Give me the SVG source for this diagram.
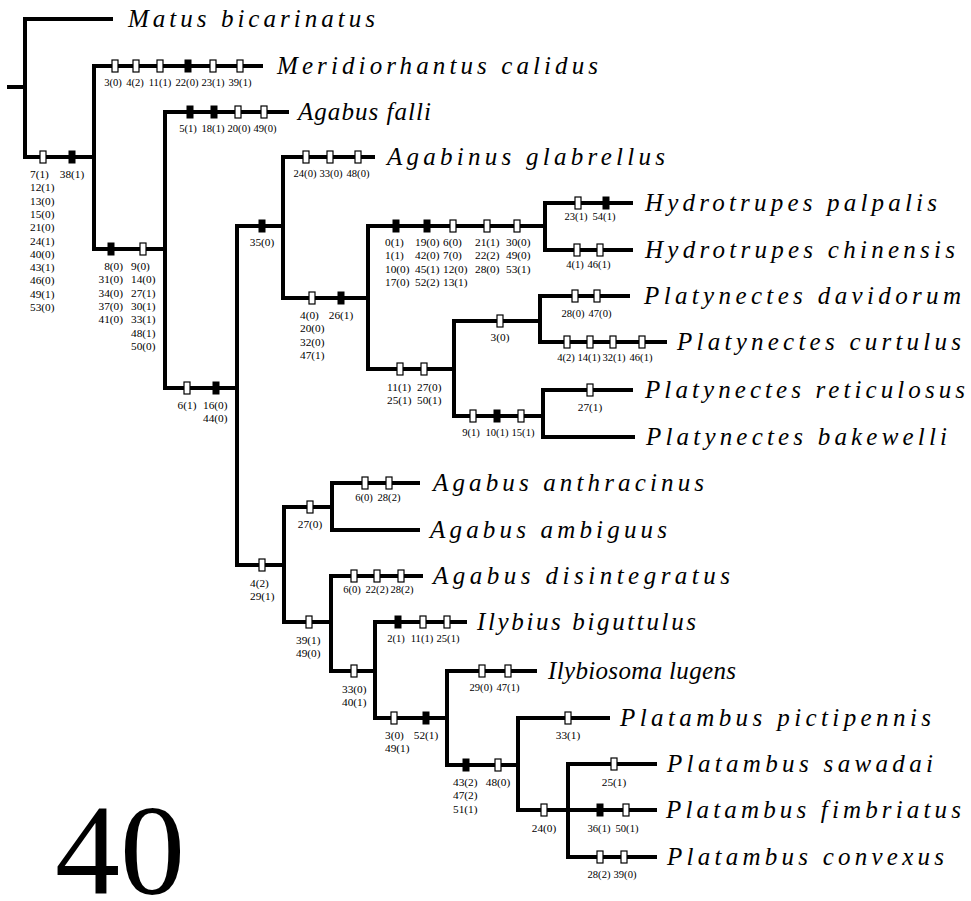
<svg xmlns="http://www.w3.org/2000/svg" xmlns:xlink="http://www.w3.org/1999/xlink" width="971" height="901" viewBox="0 0 971 901">
<style>
.br{fill:none;stroke:#000;stroke-width:4;stroke-linejoin:miter;stroke-linecap:butt}
.o{fill:#fff;stroke:#000;stroke-width:1.2}
.f{fill:#000}
.c{font-family:'Liberation Serif',serif;font-size:11.3px;fill:#000}
.r{font-size:10.6px}
.m{text-anchor:middle}
.t{font-family:'Liberation Serif',serif;font-style:italic;font-size:25px;fill:#000}
</style>
<defs>
<rect id="ob" class="o" x="-3" y="-6" width="6" height="12"/>
<rect id="fb" class="f" x="-3.5" y="-6.5" width="7" height="13"/>
</defs>
<rect width="971" height="901" fill="#fff"/>
<g id="connectors">
<path class="br" d="M7 87H25"/>
<path class="br" d="M113 19H25V157H94"/>
<path class="br" d="M263 66H94V249H165"/>
<path class="br" d="M289 112H165V388H237"/>
<path class="br" d="M283 226H237V565H284"/>
<path class="br" d="M375 157H283V298H368"/>
<path class="br" d="M545 226H368V369H454"/>
<path class="br" d="M633 203H545V250H633"/>
<path class="br" d="M540 321H454V416H543"/>
<path class="br" d="M630 296H540V342H667"/>
<path class="br" d="M633 390H543V437H635"/>
<path class="br" d="M332 507H284V622H331"/>
<path class="br" d="M420 483H332V530H420"/>
<path class="br" d="M423 576H331V671H375"/>
<path class="br" d="M467 622H375V718H447"/>
<path class="br" d="M537 671H447V765H518"/>
<path class="br" d="M610 718H518V810H568"/>
<path class="br" d="M657 764H568V857H657M568 810H657"/>
</g>
<g id="characters" font-family="Liberation Serif, serif" font-size="11">
<use xlink:href="#ob" x="43" y="157"/><use xlink:href="#fb" x="72" y="157"/>
<text class="c" x="30" y="178"><tspan x="30">7(1)</tspan><tspan x="30" dy="13.3">12(1)</tspan><tspan x="30" dy="13.3">13(0)</tspan><tspan x="30" dy="13.3">15(0)</tspan><tspan x="30" dy="13.3">21(0)</tspan><tspan x="30" dy="13.3">24(1)</tspan><tspan x="30" dy="13.3">40(0)</tspan><tspan x="30" dy="13.3">43(1)</tspan><tspan x="30" dy="13.3">46(0)</tspan><tspan x="30" dy="13.3">49(1)</tspan><tspan x="30" dy="13.3">53(0)</tspan></text>
<text class="c m" x="72" y="178">38(1)</text>

<use xlink:href="#ob" x="115" y="66"/><use xlink:href="#ob" x="136" y="66"/><use xlink:href="#ob" x="160" y="66"/><use xlink:href="#fb" x="188" y="66"/><use xlink:href="#ob" x="213" y="66"/><use xlink:href="#ob" x="240" y="66"/>
<text class="c r m" y="86"><tspan x="113">3(0)</tspan><tspan x="135">4(2)</tspan><tspan x="160">11(1)</tspan><tspan x="187">22(0)</tspan><tspan x="213">23(1)</tspan><tspan x="240">39(1)</tspan></text>

<use xlink:href="#fb" x="111" y="249"/><use xlink:href="#ob" x="143" y="249"/>
<text class="c" x="123" y="270" text-anchor="end"><tspan x="123">8(0)</tspan><tspan x="123" dy="13.3">31(0)</tspan><tspan x="123" dy="13.3">34(0)</tspan><tspan x="123" dy="13.3">37(0)</tspan><tspan x="123" dy="13.3">41(0)</tspan></text>
<text class="c" x="131" y="270"><tspan x="131">9(0)</tspan><tspan x="131" dy="13.3">14(0)</tspan><tspan x="131" dy="13.3">27(1)</tspan><tspan x="131" dy="13.3">30(1)</tspan><tspan x="131" dy="13.3">33(1)</tspan><tspan x="131" dy="13.3">48(1)</tspan><tspan x="131" dy="13.3">50(0)</tspan></text>

<use xlink:href="#fb" x="190" y="112"/><use xlink:href="#fb" x="214" y="112"/><use xlink:href="#ob" x="238" y="112"/><use xlink:href="#ob" x="264" y="112"/>
<text class="c r m" y="132"><tspan x="188">5(1)</tspan><tspan x="213">18(1)</tspan><tspan x="239">20(0)</tspan><tspan x="265">49(0)</tspan></text>

<use xlink:href="#ob" x="187" y="388"/><use xlink:href="#fb" x="216" y="388"/>
<text class="c m" x="187" y="409">6(1)</text>
<text class="c" x="203" y="409"><tspan x="203">16(0)</tspan><tspan x="203" dy="13.3">44(0)</tspan></text>

<use xlink:href="#fb" x="262" y="226"/>
<text class="c m" x="262" y="246">35(0)</text>

<use xlink:href="#ob" x="306" y="157"/><use xlink:href="#ob" x="330" y="157"/><use xlink:href="#ob" x="358" y="157"/>
<text class="c r m" y="177"><tspan x="305">24(0)</tspan><tspan x="331">33(0)</tspan><tspan x="358">48(0)</tspan></text>

<use xlink:href="#ob" x="312" y="298"/><use xlink:href="#fb" x="341" y="298"/>
<text class="c" x="300" y="319"><tspan x="300">4(0)</tspan><tspan x="300" dy="13.3">20(0)</tspan><tspan x="300" dy="13.3">32(0)</tspan><tspan x="300" dy="13.3">47(1)</tspan></text>
<text class="c m" x="341" y="319">26(1)</text>

<use xlink:href="#fb" x="396" y="226"/><use xlink:href="#fb" x="427" y="226"/><use xlink:href="#ob" x="453" y="226"/><use xlink:href="#ob" x="487" y="226"/><use xlink:href="#ob" x="517" y="226"/>
<text class="c" x="385" y="246"><tspan x="385">0(1)</tspan><tspan x="385" dy="13.3">1(1)</tspan><tspan x="385" dy="13.3">10(0)</tspan><tspan x="385" dy="13.3">17(0)</tspan></text>
<text class="c" x="415" y="246"><tspan x="415">19(0)</tspan><tspan x="415" dy="13.3">42(0)</tspan><tspan x="415" dy="13.3">45(1)</tspan><tspan x="415" dy="13.3">52(2)</tspan></text>
<text class="c" x="443" y="246"><tspan x="443">6(0)</tspan><tspan x="443" dy="13.3">7(0)</tspan><tspan x="443" dy="13.3">12(0)</tspan><tspan x="443" dy="13.3">13(1)</tspan></text>
<text class="c" x="475" y="246"><tspan x="475">21(1)</tspan><tspan x="475" dy="13.3">22(2)</tspan><tspan x="475" dy="13.3">28(0)</tspan></text>
<text class="c" x="506" y="246"><tspan x="506">30(0)</tspan><tspan x="506" dy="13.3">49(0)</tspan><tspan x="506" dy="13.3">53(1)</tspan></text>

<use xlink:href="#ob" x="578" y="203"/><use xlink:href="#fb" x="606" y="203"/>
<text class="c r m" y="220"><tspan x="576">23(1)</tspan><tspan x="604">54(1)</tspan></text>
<use xlink:href="#ob" x="577" y="250"/><use xlink:href="#ob" x="600" y="250"/>
<text class="c r m" y="268"><tspan x="575">4(1)</tspan><tspan x="599">46(1)</tspan></text>

<use xlink:href="#ob" x="400" y="369"/><use xlink:href="#ob" x="424" y="369"/>
<text class="c" x="387" y="391"><tspan x="387">11(1)</tspan><tspan x="387" dy="13.3">25(1)</tspan></text>
<text class="c" x="417" y="391"><tspan x="417">27(0)</tspan><tspan x="417" dy="13.3">50(1)</tspan></text>

<use xlink:href="#ob" x="500" y="321"/>
<text class="c m" x="500" y="341">3(0)</text>
<use xlink:href="#ob" x="575" y="296"/><use xlink:href="#ob" x="597" y="296"/>
<text class="c r m" y="317"><tspan x="573">28(0)</tspan><tspan x="600">47(0)</tspan></text>
<use xlink:href="#ob" x="567" y="342"/><use xlink:href="#ob" x="590" y="342"/><use xlink:href="#ob" x="613" y="342"/><use xlink:href="#ob" x="642" y="342"/>
<text class="c r m" y="361"><tspan x="566">4(2)</tspan><tspan x="589">14(1)</tspan><tspan x="614">32(1)</tspan><tspan x="641">46(1)</tspan></text>

<use xlink:href="#ob" x="473" y="416"/><use xlink:href="#fb" x="497" y="416"/><use xlink:href="#ob" x="521" y="416"/>
<text class="c r m" y="436"><tspan x="471">9(1)</tspan><tspan x="497">10(1)</tspan><tspan x="523">15(1)</tspan></text>
<use xlink:href="#ob" x="590" y="390"/>
<text class="c m" x="590" y="411">27(1)</text>

<use xlink:href="#ob" x="262" y="565"/>
<text class="c" x="250" y="587"><tspan x="250">4(2)</tspan><tspan x="250" dy="13.3">29(1)</tspan></text>
<use xlink:href="#ob" x="310" y="507"/>
<text class="c m" x="310" y="528">27(0)</text>
<use xlink:href="#ob" x="365" y="483"/><use xlink:href="#ob" x="389" y="483"/>
<text class="c r m" y="501"><tspan x="364">6(0)</tspan><tspan x="389">28(2)</tspan></text>

<use xlink:href="#ob" x="309" y="622"/>
<text class="c" x="296" y="644"><tspan x="296">39(1)</tspan><tspan x="296" dy="13.3">49(0)</tspan></text>
<use xlink:href="#ob" x="354" y="576"/><use xlink:href="#ob" x="377" y="576"/><use xlink:href="#ob" x="401" y="576"/>
<text class="c r m" y="593"><tspan x="352">6(0)</tspan><tspan x="377">22(2)</tspan><tspan x="402">28(2)</tspan></text>

<use xlink:href="#ob" x="354" y="671"/>
<text class="c" x="342" y="693"><tspan x="342">33(0)</tspan><tspan x="342" dy="13.3">40(1)</tspan></text>
<use xlink:href="#fb" x="398" y="622"/><use xlink:href="#ob" x="423" y="622"/><use xlink:href="#ob" x="447" y="622"/>
<text class="c r m" y="642"><tspan x="396">2(1)</tspan><tspan x="422">11(1)</tspan><tspan x="448">25(1)</tspan></text>

<use xlink:href="#ob" x="394" y="718"/><use xlink:href="#fb" x="426" y="718"/>
<text class="c" x="385" y="739"><tspan x="385">3(0)</tspan><tspan x="385" dy="13.3">49(1)</tspan></text>
<text class="c m" x="426" y="739">52(1)</text>
<use xlink:href="#ob" x="482" y="671"/><use xlink:href="#ob" x="508" y="671"/>
<text class="c r m" y="691"><tspan x="481">29(0)</tspan><tspan x="508">47(1)</tspan></text>

<use xlink:href="#fb" x="466" y="765"/><use xlink:href="#ob" x="498" y="765"/>
<text class="c" x="453" y="786"><tspan x="453">43(2)</tspan><tspan x="453" dy="13.3">47(2)</tspan><tspan x="453" dy="13.3">51(1)</tspan></text>
<text class="c m" x="498" y="786">48(0)</text>
<use xlink:href="#ob" x="568" y="718"/>
<text class="c m" x="568" y="739">33(1)</text>

<use xlink:href="#ob" x="544" y="810"/>
<text class="c m" x="544" y="832">24(0)</text>
<use xlink:href="#ob" x="614" y="764"/>
<text class="c m" x="614" y="786">25(1)</text>
<use xlink:href="#fb" x="600" y="810"/><use xlink:href="#ob" x="626" y="810"/>
<text class="c r m" y="832"><tspan x="599">36(1)</tspan><tspan x="627">50(1)</tspan></text>
<use xlink:href="#ob" x="600" y="857"/><use xlink:href="#ob" x="624" y="857"/>
<text class="c r m" y="878"><tspan x="599">28(2)</tspan><tspan x="625">39(0)</tspan></text>
</g>
<g id="taxa" font-family="Liberation Serif, serif" font-style="italic" font-size="25">
<g id="matus-bicarinatus"><text class="t" x="128" y="27" textLength="247" lengthAdjust="spacing">Matus bicarinatus</text></g>
<g id="meridiorhantus-calidus"><text class="t" x="277" y="74" textLength="321" lengthAdjust="spacing">Meridiorhantus calidus</text></g>
<g id="agabus-falli"><text class="t" x="298" y="120" textLength="133" lengthAdjust="spacing">Agabus falli</text></g>
<g id="agabinus-glabrellus"><text class="t" x="387" y="165" textLength="278" lengthAdjust="spacing">Agabinus glabrellus</text></g>
<g id="hydrotrupes-palpalis"><text class="t" x="645" y="211" textLength="292" lengthAdjust="spacing">Hydrotrupes palpalis</text></g>
<g id="hydrotrupes-chinensis"><text class="t" x="645" y="258" textLength="310" lengthAdjust="spacing">Hydrotrupes chinensis</text></g>
<g id="platynectes-davidorum"><text class="t" x="644" y="304" textLength="317" lengthAdjust="spacing">Platynectes davidorum</text></g>
<g id="platynectes-curtulus"><text class="t" x="677" y="350" textLength="284" lengthAdjust="spacing">Platynectes curtulus</text></g>
<g id="platynectes-reticulosus"><text class="t" x="645" y="398" textLength="320" lengthAdjust="spacing">Platynectes reticulosus</text></g>
<g id="platynectes-bakewelli"><text class="t" x="646" y="445" textLength="301" lengthAdjust="spacing">Platynectes bakewelli</text></g>
<g id="agabus-anthracinus"><text class="t" x="433" y="491" textLength="271" lengthAdjust="spacing">Agabus anthracinus</text></g>
<g id="agabus-ambiguus"><text class="t" x="430" y="538" textLength="237" lengthAdjust="spacing">Agabus ambiguus</text></g>
<g id="agabus-disintegratus"><text class="t" x="433" y="584" textLength="297" lengthAdjust="spacing">Agabus disintegratus</text></g>
<g id="ilybius-biguttulus"><text class="t" x="477" y="630" textLength="219" lengthAdjust="spacing">Ilybius biguttulus</text></g>
<g id="ilybiosoma-lugens"><text class="t" x="548" y="679" textLength="188" lengthAdjust="spacing">Ilybiosoma lugens</text></g>
<g id="platambus-pictipennis"><text class="t" x="620" y="726" textLength="311" lengthAdjust="spacing">Platambus pictipennis</text></g>
<g id="platambus-sawadai"><text class="t" x="667" y="772" textLength="266" lengthAdjust="spacing">Platambus sawadai</text></g>
<g id="platambus-fimbriatus"><text class="t" x="666" y="818" textLength="295" lengthAdjust="spacing">Platambus fimbriatus</text></g>
<g id="platambus-convexus"><text class="t" x="667" y="865" textLength="277" lengthAdjust="spacing">Platambus convexus</text></g>
</g>
<g id="figure-number"><text x="55" y="894" font-family="Liberation Serif, serif" font-size="130">40</text></g>
</svg>
